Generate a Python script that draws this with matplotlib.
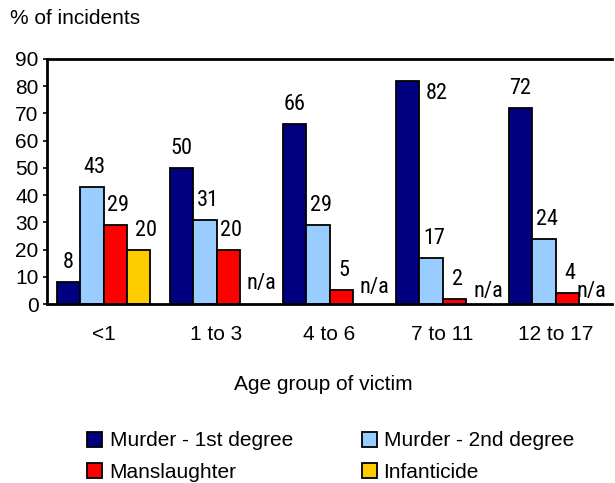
import matplotlib
matplotlib.use("Agg")
import matplotlib.pyplot as plt
from matplotlib.patches import Patch
import numpy as np

categories = ["<1", "1 to 3", "4 to 6", "7 to 11", "12 to 17"]
series_names = ["Murder - 1st degree", "Murder - 2nd degree", "Manslaughter", "Infanticide"]
murder1 = [8, 50, 66, 82, 72]
murder2 = [43, 31, 29, 17, 24]
manslaughter = [29, 20, 5, 2, 4]
infanticide = [20, None, None, None, None]
yticks = [0, 10, 20, 30, 40, 50, 60, 70, 80, 90]

colors = ["#000080", "#99CCFF", "#FF0000", "#FFCC00"]
label_dx = [0, 3, 3, 8]                       # px offsets for value labels
na_offsets = [None, (10, 15), (10, 11), (11, 7), (1, 7)]  # px offsets of "n/a" labels

plt.rcParams['font.family'] = ['Liberation Sans', 'DejaVu Sans']
narrow = ['Roboto Condensed', 'Archivo Narrow', 'Liberation Sans', 'DejaVu Sans']
FS = 15
LFS = 16

fig = plt.figure(figsize=(6.15, 4.83), dpi=100)
ax = fig.add_axes([47/615, 1-304/483, 565/615, (304-59)/483])

series = [murder1, murder2, manslaughter, infanticide]
w = 0.206
x = np.arange(len(categories))
px = 72/100  # points per pixel

for i, (vals, col) in enumerate(zip(series, colors)):
    xpos = x - 2*w + w/2 + i*w
    for k, (xi, v) in enumerate(zip(xpos, vals)):
        if v is None:
            dx, dy = na_offsets[k]
            ax.annotate("n/a", (xi, 0), xytext=(dx*px, dy*px), textcoords="offset points",
                        ha="center", va="baseline", fontsize=LFS, family=narrow, color="black")
            continue
        ax.bar(xi, v, width=w, color=col, edgecolor="black", linewidth=1.3, zorder=2)
        if v + 9 > 90:
            ax.annotate(str(v), (xi + w/2, v), xytext=(7*px, -2*px), textcoords="offset points",
                        ha="left", va="top", fontsize=LFS, family=narrow)
        else:
            ax.annotate(str(v), (xi, v), xytext=(label_dx[i]*px, 14*px), textcoords="offset points",
                        ha="center", va="baseline", fontsize=LFS, family=narrow)

ax.set_xlim(-0.5, len(categories) - 0.5)
ax.set_ylim(0, 90)
ax.set_yticks(yticks)
ax.set_yticklabels([str(t) for t in yticks], fontsize=FS)
ax.set_xticks(x)
ax.set_xticklabels(categories, fontsize=FS)
ax.tick_params(axis='x', length=0, pad=15)
ax.tick_params(axis='y', length=3, width=1.2, pad=3)
for s in ["left", "bottom", "top"]:
    ax.spines[s].set_linewidth(2)
ax.spines["right"].set_visible(False)

fig.text(10/615, 1-18/483, "% of incidents", fontsize=FS, ha="left", va="center")
fig.text(323/615, 1-385/483, "Age group of victim", fontsize=FS, ha="center", va="center")

handles = [Patch(facecolor=c, edgecolor="black", linewidth=1.3, label=nme) for c, nme in zip(colors, series_names)]
order = [0, 2, 1, 3]
fig.legend(handles=[handles[j] for j in order], ncol=2, loc="upper left",
           bbox_to_anchor=(77/615, 1-421/483),
           frameon=False, fontsize=FS, handlelength=0.72, handleheight=0.72,
           handletextpad=0.34, columnspacing=3.3, labelspacing=0.6, borderpad=0)

fig.savefig("out.png", dpi=100)
